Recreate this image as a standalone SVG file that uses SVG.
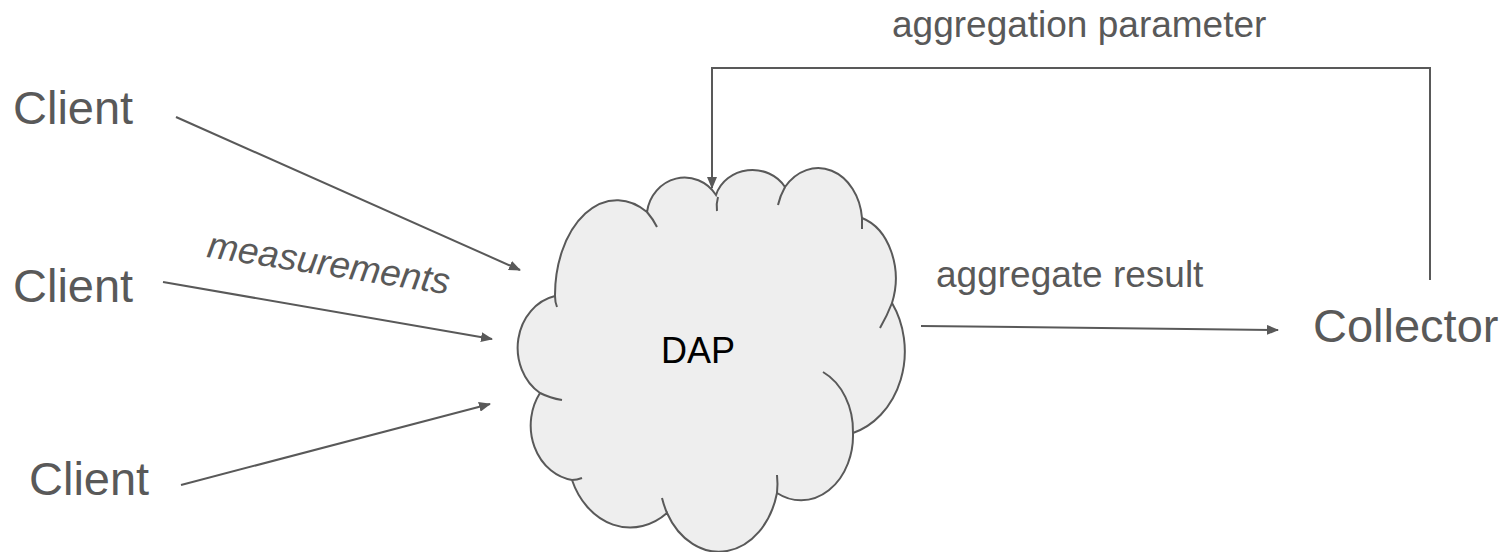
<svg xmlns="http://www.w3.org/2000/svg" width="1508" height="552" viewBox="0 0 1508 552">
<style>
.lbl{font-family:"Liberation Sans",Arial,sans-serif;fill:#595959}
.big{font-size:47px}
.mid{font-size:37px}
.conn{fill:none;stroke:#595959;stroke-width:2}
.cloud{fill:#eeeeee;stroke:#595959;stroke-width:2}
.inner{fill:none;stroke:#595959;stroke-width:2}
</style>
<defs>
<marker id="ah" markerWidth="12" markerHeight="10" refX="11" refY="5" orient="auto" markerUnits="userSpaceOnUse">
<path d="M0,0 L12,5 L0,10 z" fill="#595959"/>
</marker>
</defs>
<g id="dap">
<path class="cloud" d="M555 296 A62 95 0 0 1 647 212 A38 40 0 0 1 716 195 A38 35 0 0 1 785 187 A44 55 0 0 1 862 218 A47 63 0 0 1 892 303 A72 85 0 0 1 853 433 A52 65 0 0 1 777 493 A60 78 0 0 1 667 513 A63 77 0 0 1 572 480 A48 55 0 0 1 540 393 A47 53 0 0 1 555 296 Z"/>
<path class="inner" d="M647 212 Q653 219 657 227"/>
<path class="inner" d="M718 197 Q716 204 717 211"/>
<path class="inner" d="M785 187 Q780 196 778 205"/>
<path class="inner" d="M862 218 Q862 224 862 229"/>
<path class="inner" d="M892 303 Q887 316 880 328"/>
<path class="inner" d="M823 372 A52 65 0 0 1 853 433"/>
<path class="inner" d="M777 475 Q778 484 777 493"/>
<path class="inner" d="M667 513 Q664 506 662 498"/>
<path class="inner" d="M582 478 Q577 480 572 480"/>
<path class="inner" d="M562 400 Q550 398 540 393"/>
<path class="inner" d="M557 307 Q555 302 555 296"/>
<text x="661" y="363" font-family="Liberation Sans, Arial, sans-serif" font-size="36" fill="#000000">DAP</text>
</g>
<g id="client1"><text class="lbl big" x="13" y="124">Client</text></g>
<g id="client2"><text class="lbl big" x="13" y="302">Client</text></g>
<g id="client3"><text class="lbl big" x="29" y="495">Client</text></g>
<g id="collector"><text class="lbl big" x="1313" y="342">Collector</text></g>
<g id="connectors">
<line class="conn" x1="176" y1="117" x2="520" y2="270" marker-end="url(#ah)"/>
<line class="conn" x1="163" y1="282" x2="492" y2="339" marker-end="url(#ah)"/>
<line class="conn" x1="181" y1="485" x2="490" y2="404" marker-end="url(#ah)"/>
<line class="conn" x1="921" y1="326" x2="1278" y2="330" marker-end="url(#ah)"/>
<polyline class="conn" points="1430,280 1430,68 712,68 712,188" marker-end="url(#ah)"/>
<text class="lbl mid" font-style="italic" font-size="36" transform="translate(206,257) rotate(8.8)">measurements</text>
<text class="lbl mid" x="936" y="287">aggregate result</text>
<text class="lbl mid" x="892" y="37">aggregation parameter</text>
</g>
</svg>
